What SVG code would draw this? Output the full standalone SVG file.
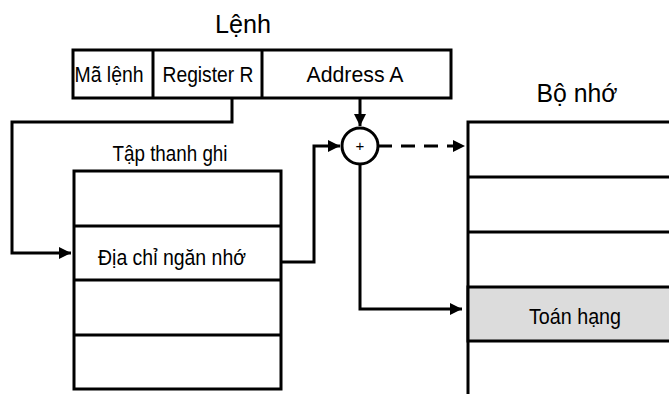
<svg xmlns="http://www.w3.org/2000/svg" width="669" height="394" viewBox="0 0 669 394">
<style>
.b{fill:#fff;stroke:#000;stroke-width:3}
.g{fill:#dcdcdc;stroke:#000;stroke-width:3}
.t{font-family:"Liberation Sans",Arial,sans-serif;fill:#000;text-anchor:middle}
.s{font-size:22px}
.h{font-size:26px}
.c{fill:none;stroke:#000;stroke-width:3}
</style>
<defs>
<marker id="ah" viewBox="0 0 10 10" refX="10" refY="5" markerWidth="4" markerHeight="4" orient="auto" markerUnits="strokeWidth">
<path d="M0,0 L10,5 L0,10 z" fill="#000"/>
</marker>
</defs>
<g id="instruction">
<text class="t h" x="243" y="33" textLength="56" lengthAdjust="spacingAndGlyphs">Lệnh</text>
<rect class="b" x="73" y="50" width="378" height="48"/>
<line class="c" x1="153" y1="50" x2="153" y2="98"/>
<line class="c" x1="262" y1="50" x2="262" y2="98"/>
<text class="t s" x="109" y="82" textLength="69" lengthAdjust="spacingAndGlyphs">Mã lệnh</text>
<text class="t s" x="208" y="82" textLength="91" lengthAdjust="spacingAndGlyphs">Register R</text>
<text class="t s" x="355" y="82" textLength="97" lengthAdjust="spacingAndGlyphs">Address A</text>
</g>
<g id="registers">
<text class="t s" x="170" y="161" textLength="115" lengthAdjust="spacingAndGlyphs">Tập thanh ghi</text>
<rect class="b" x="74" y="171" width="207" height="218"/>
<line class="c" x1="74" y1="226" x2="281" y2="226"/>
<line class="c" x1="74" y1="280" x2="281" y2="280"/>
<line class="c" x1="74" y1="335" x2="281" y2="335"/>
<text class="t s" x="172" y="265" textLength="148" lengthAdjust="spacingAndGlyphs">Địa chỉ ngăn nhớ</text>
</g>
<g id="memory">
<text class="t h" x="577" y="102" textLength="81" lengthAdjust="spacingAndGlyphs">Bộ nhớ</text>
<rect class="b" x="468" y="122" width="210" height="280"/>
<line class="c" x1="468" y1="177" x2="678" y2="177"/>
<line class="c" x1="468" y1="232" x2="678" y2="232"/>
<rect class="g" x="468" y="287" width="210" height="54"/>
<text class="t s" x="575" y="324" textLength="92" lengthAdjust="spacingAndGlyphs">Toán hạng</text>
</g>
<g id="adder">
<circle class="b" cx="360" cy="146" r="18"/>
<text class="t" x="360" y="151" font-size="15">+</text>
</g>
<g id="connectors">
<polyline class="c" points="232,98 232,122 12,122 12,253 71,253" marker-end="url(#ah)"/>
<polyline class="c" points="360,98 360,126" marker-end="url(#ah)"/>
<polyline class="c" points="281,262 314,262 314,146 340,146" marker-end="url(#ah)"/>
<line class="c" x1="378" y1="146" x2="465" y2="146" stroke-dasharray="14,9" marker-end="url(#ah)"/>
<polyline class="c" points="360,164 360,309 462,309" marker-end="url(#ah)"/>
</g>
</svg>
